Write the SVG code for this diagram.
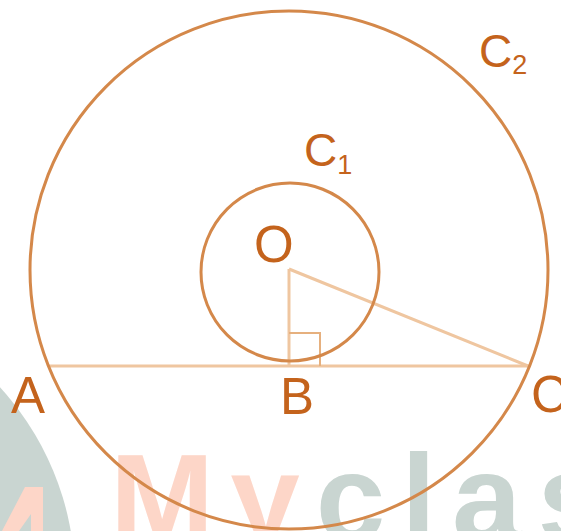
<svg xmlns="http://www.w3.org/2000/svg" width="561" height="531" viewBox="0 0 561 531">
<style>
.circ{fill:none;stroke:#d4884a;stroke-width:3}
.ln{fill:none;stroke:#efc6a0;stroke-width:3}
.mark{fill:none;stroke:#e6b07e;stroke-width:2}
.lbl{font-family:"Liberation Sans",Arial,sans-serif;fill:#c4631c}
.big{font-size:51px}
.sub{font-size:46px}
.wm{font-family:"Liberation Sans",Arial,sans-serif;font-weight:bold;font-size:125px;letter-spacing:16px}
</style>
<rect width="561" height="531" fill="#ffffff"/>
<g id="watermark">
<circle cx="-210" cy="580" r="285" fill="#c9d5d1"/>
<polygon points="25,487 43,487 43,531 31,531 31,514 19,531 2,531" fill="#fdd6c8"/>
<text class="wm" x="110" y="541"><tspan fill="#fdd6c8">My</tspan><tspan fill="#c9d5d1">clas</tspan></text>
</g>
<g id="connectors">
<line class="ln" x1="48" y1="366" x2="529" y2="366"/>
<line class="ln" x1="289" y1="269" x2="289" y2="366"/>
<line class="ln" x1="289" y1="269" x2="528" y2="366"/>
<polyline class="mark" points="289,333 320,333 320,366"/>
</g>
<g id="C2">
<circle class="circ" cx="289" cy="270" r="259"/>
<text class="lbl sub" x="479" y="67">C<tspan font-size="27" dy="7">2</tspan></text>
</g>
<g id="C1">
<circle class="circ" cx="290" cy="272" r="89"/>
<text class="lbl sub" x="304" y="166">C<tspan font-size="27" dy="8">1</tspan></text>
</g>
<g id="O"><text class="lbl big" x="254" y="262">O</text></g>
<g id="A"><text class="lbl big" x="11" y="413">A</text></g>
<g id="B"><text class="lbl big" x="280" y="414">B</text></g>
<g id="C"><text class="lbl big" x="531" y="412">C</text></g>
</svg>
